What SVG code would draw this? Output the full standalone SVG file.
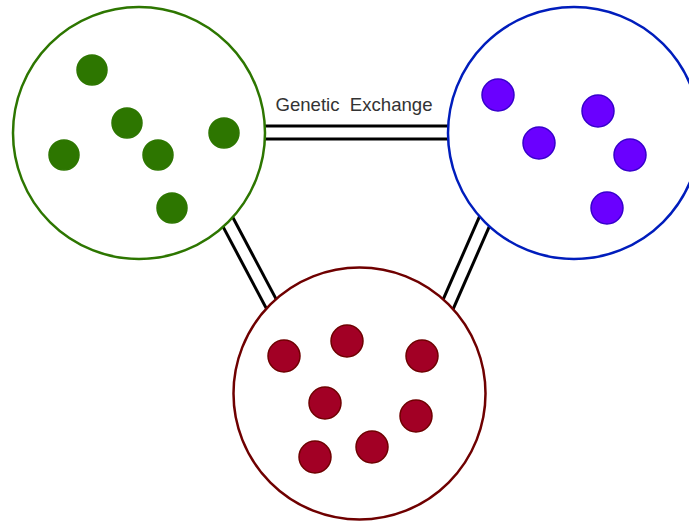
<svg xmlns="http://www.w3.org/2000/svg" width="689" height="524" viewBox="0 0 689 524">
<style>
.outer{stroke:#000;stroke-width:16;fill:none}
.inner{stroke:#fff;stroke-width:10;fill:none}
.cell{fill:#fff;stroke-width:2.5}
.g{fill:#2d7600;stroke:#2d7600;stroke-width:1.5}
.b{fill:#6a00ff;stroke:#3700cc;stroke-width:1.5}
.r{fill:#a20025;stroke:#6f0000;stroke-width:1.5}
.lbl{font-family:"Liberation Sans",Arial,sans-serif;font-size:18.6px;fill:#333;white-space:pre}
</style>
<rect width="689" height="524" fill="#fff"/>
<g id="connectors">
<path class="outer" d="M240 132.5H470"/>
<path class="inner" d="M240 132.5H470"/>
<path class="outer" d="M219.6 206.3L279.4 319.2"/>
<path class="inner" d="M219.6 206.3L279.4 319.2"/>
<path class="outer" d="M491.3 205.7L442 318.3"/>
<path class="inner" d="M491.3 205.7L442 318.3"/>
<text class="lbl" x="354" y="111" text-anchor="middle" xml:space="preserve">Genetic  Exchange</text>
</g>
<g id="green">
<circle class="cell" cx="139" cy="133" r="126" stroke="#2d7600"/>
<circle class="g" cx="92" cy="70" r="15"/>
<circle class="g" cx="127" cy="123" r="15"/>
<circle class="g" cx="64" cy="155" r="15"/>
<circle class="g" cx="158" cy="155" r="15"/>
<circle class="g" cx="224" cy="133" r="15"/>
<circle class="g" cx="172" cy="208" r="15"/>
</g>
<g id="blue">
<circle class="cell" cx="574" cy="133" r="126" stroke="#001dbc"/>
<circle class="b" cx="498" cy="95" r="16"/>
<circle class="b" cx="539" cy="143" r="16"/>
<circle class="b" cx="598" cy="111" r="16"/>
<circle class="b" cx="630" cy="155" r="16"/>
<circle class="b" cx="607" cy="208" r="16"/>
</g>
<g id="red">
<circle class="cell" cx="359.5" cy="393.5" r="126" stroke="#6f0000"/>
<circle class="r" cx="284" cy="356" r="16"/>
<circle class="r" cx="347" cy="341" r="16"/>
<circle class="r" cx="422" cy="356" r="16"/>
<circle class="r" cx="325" cy="403" r="16"/>
<circle class="r" cx="416" cy="416" r="16"/>
<circle class="r" cx="315" cy="457" r="16"/>
<circle class="r" cx="372" cy="447" r="16"/>
</g>
</svg>
